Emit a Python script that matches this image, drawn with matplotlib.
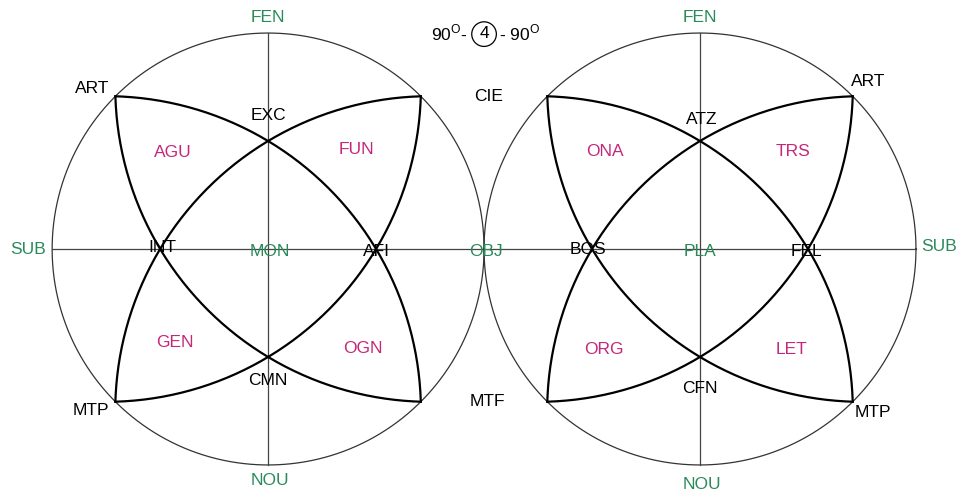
import numpy as np
import matplotlib
matplotlib.use("Agg")
import matplotlib.pyplot as plt
from matplotlib.patches import Circle

plt.rcParams["font.family"] = ["Liberation Sans", "DejaVu Sans"]
plt.rcParams["mathtext.fontset"] = "custom"
plt.rcParams["mathtext.rm"] = "Liberation Sans"

GREEN = "#2a8a5a"
PINK = "#c4287a"

# circle centres (unit radius each)
centres = [0.0, 2.0]

# labels per circle: text, offset from centre, colour key
left_labels = ["FEN", "NOU", "SUB", "OBJ", "MON", "INT", "AFI", "EXC", "CMN",
               "AGU", "FUN", "GEN", "OGN", "ART", "MTP", "CIE", "MTF"]
left_x = [0.0, 0.01, -1.11, 1.01, 0.01, -0.49, 0.50, 0.0, 0.0,
          -0.44, 0.41, -0.43, 0.44, -0.815, -0.82, 1.02, 1.015]
left_y = [1.07, -1.07, 0.0, -0.01, -0.01, 0.005, -0.01, 0.62, -0.61,
          0.445, 0.46, -0.435, -0.46, 0.745, -0.75, 0.705, -0.705]
left_col = ["g", "g", "g", "g", "g", "k", "k", "k", "k",
            "p", "p", "p", "p", "k", "k", "k", "k"]

right_labels = ["FEN", "NOU", "SUB", "PLA", "BOS", "FEL", "ATZ", "CFN",
                "ONA", "TRS", "ORG", "LET", "ART", "MTP"]
right_x = [0.0, 0.01, 1.105, 0.0, -0.52, 0.495, 0.01, 0.0,
           -0.44, 0.43, -0.445, 0.425, 0.78, 0.80]
right_y = [1.07, -1.09, 0.01, -0.01, 0.0, -0.01, 0.60, -0.645,
           0.45, 0.45, -0.465, -0.465, 0.775, -0.755]
right_col = ["g", "g", "g", "g", "k", "k", "k", "k",
             "p", "p", "p", "p", "k", "k"]

colours = {"g": GREEN, "p": PINK, "k": "black"}

fig = plt.figure(figsize=(9.64, 4.98), dpi=100)
ax = fig.add_axes([0, 0, 1, 1])
ax.set_xlim(-1.241, 3.222)
ax.set_ylim(-1.153, 1.153)
ax.set_aspect("equal")
ax.axis("off")

t = np.linspace(0, 2 * np.pi, 400)
# lens arcs: circles through the 45 deg corners and (0, 0.5)
c = 0.75
rr = np.sqrt(2 * c**2 + 1)
k = np.sqrt(0.5)

for cx in centres:
    ax.plot(cx + np.cos(t), np.sin(t), color="#333333", lw=0.9)
    ax.plot([cx - 1, cx + 1], [0, 0], color="#444444", lw=0.9)
    ax.plot([cx, cx], [-1, 1], color="#444444", lw=0.9)
    for sx, sy in [(1, 1), (-1, -1), (1, -1), (-1, 1)]:
        ox, oy = -c * sx, -c * sy
        base = np.arctan2(sy, sx)
        # one corner the arc ends at
        px, py = k * sx, -k * sy
        end = np.arctan2(py - oy, px - ox)
        d = abs((end - base + np.pi) % (2 * np.pi) - np.pi)
        tt = np.linspace(base - d, base + d, 200)
        ax.plot(cx + ox + rr * np.cos(tt), oy + rr * np.sin(tt),
                color="black", lw=1.6)

for lab, x, y, col in zip(left_labels, left_x, left_y, left_col):
    ax.text(x, y, lab, color=colours[col], fontsize=12.5, ha="center", va="center")
for lab, x, y, col in zip(right_labels, right_x, right_y, right_col):
    ax.text(centres[1] + x, y, lab, color=colours[col], fontsize=12.5,
            ha="center", va="center")

# title 90°-(4)-90°
ax.text(0.922, 1.0, r"90$^{\rm O}$-", fontsize=12.5, ha="right", va="center")
ax.text(1.0, 1.0, "4", fontsize=12.5, ha="center", va="center")
ax.add_patch(Circle((1.0, 0.995), 0.057, fill=False, ec="black", lw=0.9))
ax.text(1.068, 1.0, r"- 90$^{\rm O}$", fontsize=12.5, ha="left", va="center")

fig.savefig("out.png", dpi=100)
